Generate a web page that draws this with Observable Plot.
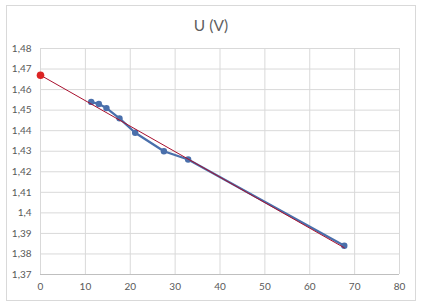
<!DOCTYPE html>
<html>
<head>
<meta charset="utf-8">
<script src="https://cdn.jsdelivr.net/npm/d3@7"></script>
<script src="https://cdn.jsdelivr.net/npm/@observablehq/plot@0.6"></script>
<style>
  body { margin: 0; background: #fff; }
  #wrap { position: relative; width: 423px; height: 307px; overflow: hidden; }
  #frame { position: absolute; left: 6px; top: 5px; width: 410px; height: 296px; border: 1px solid #d9d9d9; box-sizing: border-box; }
  #title { position: absolute; left: 6px; width: 410px; top: 16px; text-align: center; font-family: Lato, "Open Sans", sans-serif; font-size: 15.5px; color: #5f5f5f; }
  #chart { position: absolute; left: 0; top: 0; }
</style>
</head>
<body>
<div id="wrap">
  <div id="frame"></div>
  <div id="title">U (V)</div>
  <div id="chart"></div>
</div>
<script>
const xValues = [11.3, 13.0, 14.7, 17.6, 21.1, 27.5, 32.9, 67.7];
const uValues = [1.454, 1.453, 1.451, 1.446, 1.439, 1.430, 1.426, 1.384];
const interceptX = [0];
const interceptU = [1.467];
const trendX = [0, 67.7];
const trendU = [1.467, 1.383];
const xTicks = [0, 10, 20, 30, 40, 50, 60, 70, 80];
const yTicks = [1.37, 1.38, 1.39, 1.40, 1.41, 1.42, 1.43, 1.44, 1.45, 1.46, 1.47, 1.48];

const data = xValues.map((x, i) => ({x, u: uValues[i]}));
const intercept = interceptX.map((x, i) => ({x, u: interceptU[i]}));
const trend = trendX.map((x, i) => ({x, u: trendU[i]}));

const fmt = d => String(+d.toFixed(2)).replace(".", ",");

const plot = Plot.plot({
  width: 423,
  height: 307,
  marginLeft: 40,
  marginRight: 24,
  marginTop: 48,
  marginBottom: 33,
  style: { fontFamily: "Lato, 'Open Sans', sans-serif", fontSize: "10px", color: "#595959", background: "transparent" },
  x: { domain: [0, 80], ticks: xTicks, tickFormat: d => String(d), label: null, tickSize: 0, tickPadding: 8 },
  y: { domain: [1.37, 1.48], ticks: yTicks, tickFormat: fmt, label: null, tickSize: 0, tickPadding: 9 },
  marks: [
    Plot.gridY(yTicks, { stroke: "#d9d9d9", strokeOpacity: 1 }),
    Plot.gridX(xTicks, { stroke: "#d9d9d9", strokeOpacity: 1 }),
    Plot.ruleY([1.37], { stroke: "#bfbfbf" }),
    Plot.axisX({ ticks: xTicks, tickFormat: d => String(d), tickSize: 0, tickPadding: 8, label: null }),
    Plot.axisY({ ticks: yTicks, tickFormat: fmt, tickSize: 0, tickPadding: 9, label: null }),
    Plot.line(data, { x: "x", y: "u", stroke: "#4a6fab", strokeWidth: 2.25 }),
    Plot.dot(data, { x: "x", y: "u", r: 3.2, fill: "#4a6fab", stroke: "none" }),
    Plot.line(trend, { x: "x", y: "u", stroke: "#a8102e", strokeWidth: 1 }),
    Plot.dot(intercept, { x: "x", y: "u", r: 3.8, fill: "#dc2424", stroke: "none" })
  ]
});
document.getElementById("chart").appendChild(plot);
</script>
</body>
</html>
